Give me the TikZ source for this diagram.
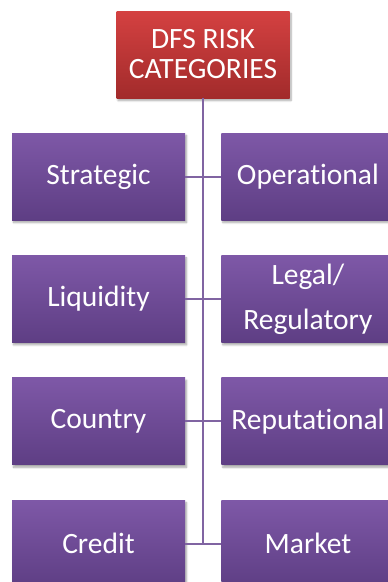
\documentclass[tikz,border=0pt]{standalone}
\usepackage{fontspec}
\setmainfont{Carlito}[RawFeature={-liga;-clig;-dlig;-calt}]
\usetikzlibrary{calc,positioning,shadows.blur}
\definecolor{catTop}{HTML}{7E58A7}
\definecolor{catBot}{HTML}{5E3E84}
\definecolor{rootTop}{HTML}{D44141}
\definecolor{rootBot}{HTML}{A22B2B}
\definecolor{linkcol}{HTML}{8064A2}

\begin{document}
\begin{tikzpicture}[x=1pt,y=-1pt,node distance=35pt and 36pt,
  box/.style={minimum width=173pt,minimum height=87pt,inner sep=0pt,align=center,
    text=white,font=\fontsize{29.5}{30}\selectfont,
    blur shadow={shadow xshift=1.5pt,shadow yshift=-2.5pt,shadow blur steps=6,shadow opacity=35}},
  cat/.style={box,top color=catTop,bottom color=catBot},
  root/.style={box,top color=rootTop,bottom color=rootBot},
  link/.style={draw=linkcol,line width=2pt}]

  \clip (0,0) rectangle (388,582);
  \useasboundingbox (0,0) rectangle (388,582);

  \node[root] (risk) at (203,54.5) {DFS RISK\\CATEGORIES};

  \node[cat] (strat) at (98.5,176.5) {Strategic};
  \node[cat] (oper) [right=of strat] {Operational};
  \node[cat] (liq) [below=of strat] {Liquidity};
  \node[cat,font=\fontsize{29.5}{45}\selectfont] (legal) [right=of liq] {Legal/\\Regulatory};
  \node[cat] (country) [below=of liq] {Country};
  \node[cat] (reput) [right=of country] {Reputational};
  \node[cat] (credit) [below=of country] {Credit};
  \node[cat] (market) [right=of credit] {Market};

  % spine and branches
  \coordinate (end) at ($(credit.east)!.5!(market.west)$);
  \path[link] (risk.south) -- (risk.south |- end);
  \path[link] (strat.east) -- (oper.west);
  \path[link] (liq.east) -- (legal.west);
  \path[link] (country.east) -- (reput.west);
  \path[link] (credit.east) -- (market.west);

\end{tikzpicture}
\end{document}
